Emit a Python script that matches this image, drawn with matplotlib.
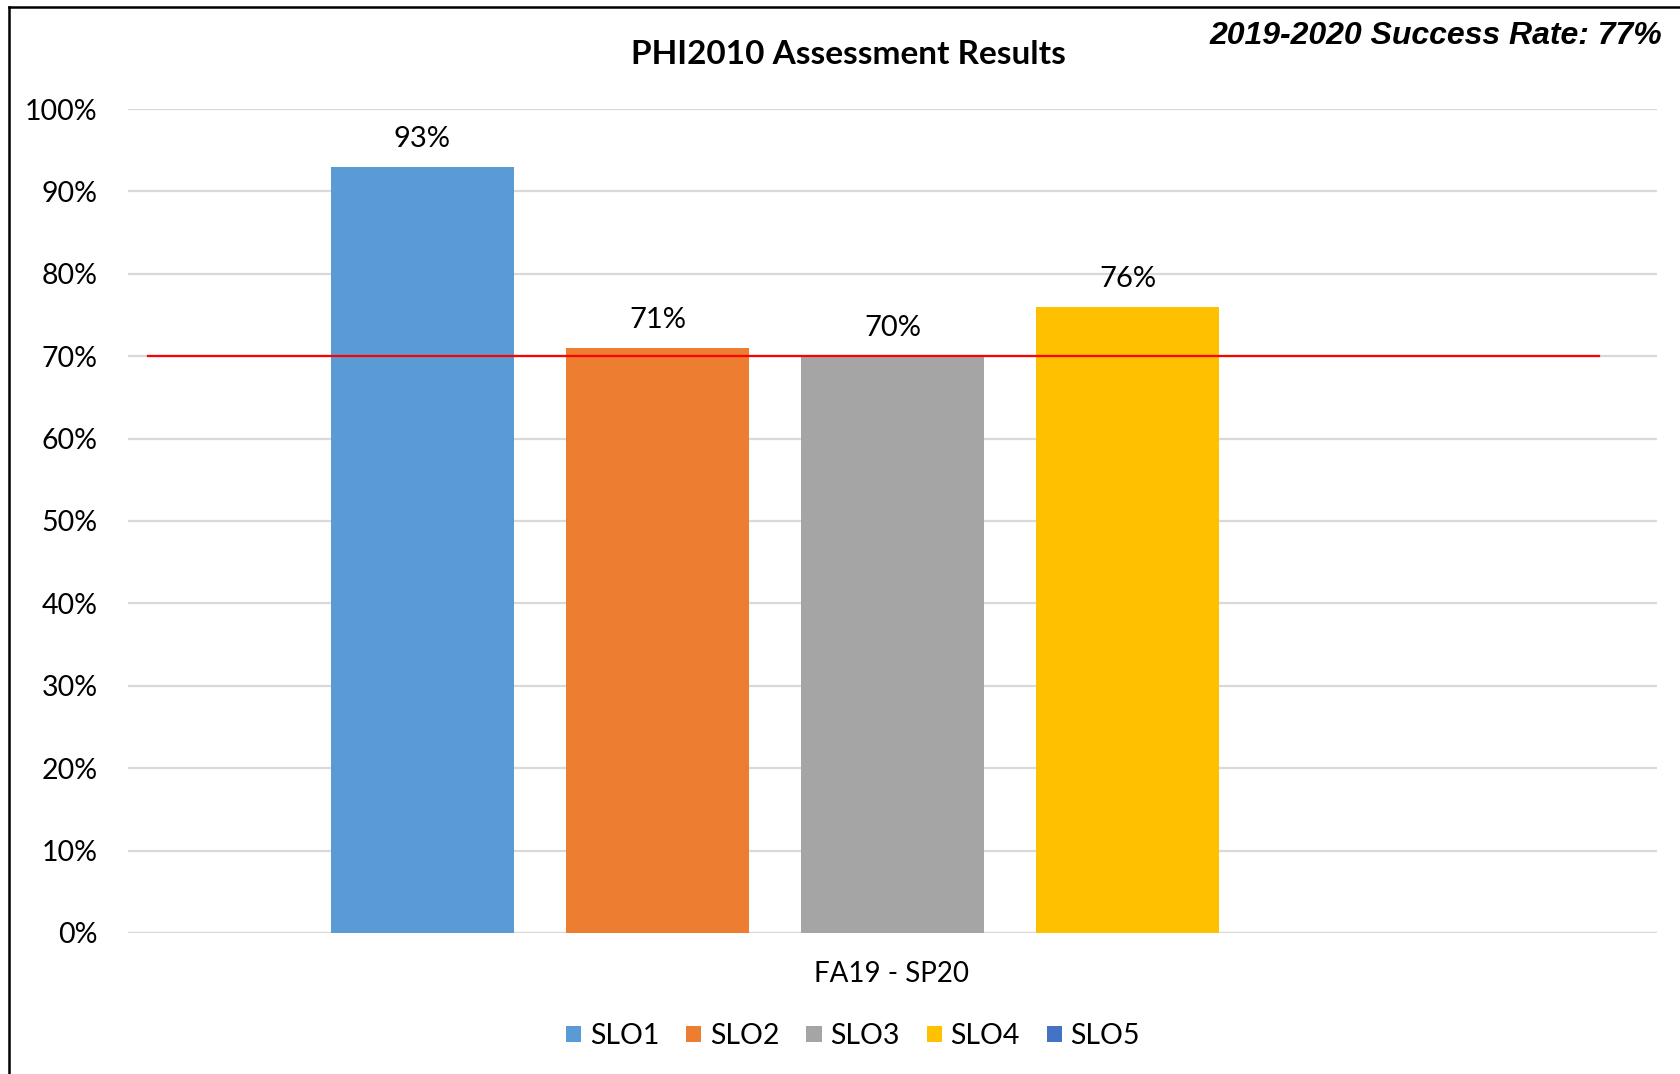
import numpy as np
import matplotlib.pyplot as plt
from matplotlib.lines import Line2D
from matplotlib.patches import Patch

plt.rcParams['font.family'] = ['Lato', 'DejaVu Sans']

series = ['SLO1', 'SLO2', 'SLO3', 'SLO4', 'SLO5']
values = [93, 71, 70, 76, np.nan]
colors = ['#5B9BD5', '#ED7D31', '#A5A5A5', '#FFC000', '#4472C4']
category = 'FA19 - SP20'
target = 70
yticks = [0, 10, 20, 30, 40, 50, 60, 70, 80, 90, 100]

fig = plt.figure(figsize=(16.8, 10.74), dpi=100)
ax = fig.add_axes([0.0762, 0.1313, 0.9101, 0.7672])

width = 0.12
step = 0.1537
for i, (name, val, col) in enumerate(zip(series, values, colors)):
    x = (i - 2) * step
    if np.isnan(val):
        continue
    ax.bar(x, val, width=width, color=col, zorder=2)
    ax.text(x, val + 1.8, f'{val:.0f}%', ha='center', va='bottom', fontsize=21)

ax.plot([-0.487, 0.462], [target, target], color='#FF0000', lw=1.6, zorder=3)

ax.set_xlim(-0.5, 0.5)
ax.set_ylim(0, 100)
ax.set_yticks(yticks)
ax.set_yticklabels([f'{t}%' for t in yticks], fontsize=20.5)
ax.tick_params(axis='y', length=0, pad=22)
ax.set_xticks([])
ax.grid(axis='y', color='#D9D9D9', lw=1.6, zorder=0)
ax.set_axisbelow(True)
for s in ax.spines.values():
    s.set_visible(False)
ax.axhline(0, color='#D9D9D9', lw=1.6, zorder=1)

fig.text(892 / 1680, 1 - 974 / 1074, category, ha='center', va='center', fontsize=20)
fig.text(848 / 1680, 1 - 54 / 1074, 'PHI2010 Assessment Results', ha='center', va='center',
         fontsize=24, fontweight='bold')
fig.text(1662 / 1680, 1 - 36 / 1074, '2019-2020 Success Rate: 77%', ha='right', va='center',
         fontsize=23, fontweight='bold', style='italic', family='Liberation Sans')

handles = [Patch(facecolor=c, edgecolor='none') for c in colors]
fig.legend(handles, series, loc='center', bbox_to_anchor=(853 / 1680, 1 - 1036 / 1074),
           ncol=5, frameon=False, fontsize=20.5, handlelength=0.53, handleheight=0.53,
           handletextpad=0.3, columnspacing=0.95)

# outer border (left and top visible)
fig.add_artist(Line2D([9 / 1680, 9 / 1680], [0, 1 - 7 / 1074], color='black', lw=1.8))
fig.add_artist(Line2D([9 / 1680, 1], [1 - 7 / 1074, 1 - 7 / 1074], color='black', lw=1.8))

fig.savefig('out.png', dpi=100)
